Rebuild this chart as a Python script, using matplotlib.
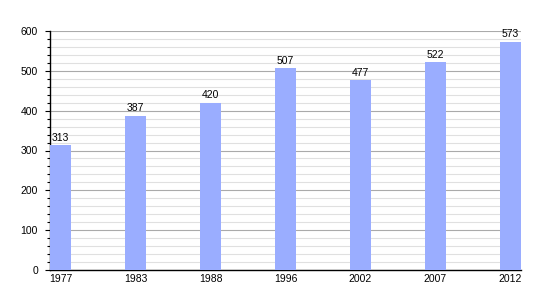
import matplotlib
matplotlib.use("Agg")
import matplotlib.pyplot as plt
import numpy as np
from matplotlib.ticker import MultipleLocator

years = ["1977", "1983", "1988", "1996", "2002", "2007", "2012"]
values = [313, 387, 420, 507, 477, 522, 573]

plt.rcParams['font.family'] = ['Liberation Sans', 'DejaVu Sans']

fig = plt.figure(figsize=(5.5, 3.0), dpi=100)
ax = fig.add_axes([50/550, 0.1, (521-50)/550, (270-31)/300])

width = 0.28
x = np.arange(len(years))
ax.bar(x, values, width=width, align='edge', color='#9AADFF', zorder=3)
for xi, v in zip(x, values):
    ax.text(xi + width/2, v + 6, str(v), ha='center', va='bottom', fontsize=7.5, zorder=4)

ax.set_xlim(0, len(years) - 1 + width)
ax.set_ylim(0, 600)
ax.set_xticks(x + width/2)
ax.set_xticklabels(years, fontsize=7.5)
ax.tick_params(axis='x', length=0, pad=3)
ax.yaxis.set_major_locator(MultipleLocator(100))
ax.yaxis.set_minor_locator(MultipleLocator(20))
ax.tick_params(axis='y', which='major', length=3.6, width=0.8, labelsize=7.5, pad=5)
ax.tick_params(axis='y', which='minor', length=2.2, width=0.8)
ax.grid(axis='y', which='major', color='#AAAAAA', linewidth=0.8, zorder=1)
ax.grid(axis='y', which='minor', color='#E0E0E0', linewidth=0.8, zorder=1)
ax.set_axisbelow(True)
for s in ['top', 'right']:
    ax.spines[s].set_visible(False)
ax.spines['left'].set_linewidth(1.0)
ax.spines['bottom'].set_linewidth(1.0)

fig.savefig("out.png", dpi=100)
